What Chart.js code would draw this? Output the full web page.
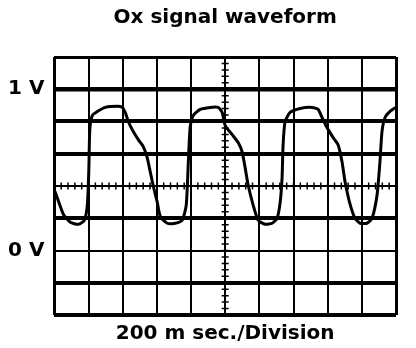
<!DOCTYPE html>
<html>
<head>
<meta charset="utf-8">
<script src="https://cdn.jsdelivr.net/npm/chart.js@4.4.1/dist/chart.umd.min.js"></script>
<style>
html,body{margin:0;padding:0;background:#fff;}
#wrap{width:416px;height:348px;position:relative;}
</style>
</head>
<body>
<div id="wrap"><canvas id="c" width="416" height="348"></canvas></div>
<script>
// Time (ms) and voltage (V)
const timeMs = [0,17.5,52.6,93.6,140.4,175.4,193,201.8,207.6,222.2,251.5,298.2,368.4,397.7,415.2,432.8,462,491.2,520.5,543.9,561.4,579,602.3,619.9,660.8,707.6,748.5,772,783.6,795.3,812.9,853.8,912.3,959,982.5,1000,1041,1076,1099,1117,1134.5,1163.8,1193,1234,1275,1304,1322,1333,1339,1351,1380,1439,1509,1544,1567,1596,1632,1661,1684,1702,1731,1760,1790,1830,1860,1889,1906,1918,1936,1965,2000];
const volts = [0.375,0.325,0.225,0.175,0.1625,0.1875,0.281,0.5,0.75,0.8375,0.8625,0.8875,0.894,0.8875,0.856,0.8,0.7375,0.6875,0.644,0.575,0.4875,0.4,0.3,0.2125,0.169,0.169,0.1875,0.281,0.531,0.769,0.8375,0.875,0.8875,0.8875,0.856,0.775,0.719,0.669,0.6125,0.5125,0.406,0.281,0.1875,0.1625,0.169,0.2,0.3,0.45,0.656,0.8,0.856,0.881,0.8875,0.875,0.825,0.7625,0.7,0.656,0.55,0.425,0.2875,0.2,0.169,0.169,0.2,0.344,0.55,0.7375,0.825,0.8625,0.8875];
const yLabels = {"1": "1 V", "0": "0 V"};
const titleText = "Ox signal waveform";
const xTitleText = "200 m sec./Division";
const timeMin = 0, timeMax = 2000, timeStep = 200;
const voltMin = -0.4, voltMax = 1.2, voltStep = 0.2;

const points = timeMs.map((t, i) => ({x: t, y: volts[i]}));
const FONT = "'DejaVu Sans', sans-serif";
const near = (a, b) => Math.abs(a - b) < 1e-6;

const centerTicks = {
  id: 'centerTicks',
  afterDraw(chart) {
    const {ctx, scales: {x, y}} = chart;
    const cx = x.getPixelForValue((timeMin + timeMax) / 2);
    const cy = y.getPixelForValue(0.4);
    ctx.save();
    ctx.strokeStyle = '#000';
    ctx.lineWidth = 1.5;
    ctx.beginPath();
    const xs = timeStep / 5;
    for (let t = timeMin + xs; t < timeMax; t += xs) {
      const px = x.getPixelForValue(t);
      ctx.moveTo(px, cy - 3.5); ctx.lineTo(px, cy + 3.5);
    }
    const ys = voltStep / 5;
    for (let v = voltMin + ys; v < voltMax - 1e-9; v += ys) {
      const py = y.getPixelForValue(v);
      ctx.moveTo(cx - 3.5, py); ctx.lineTo(cx + 3.5, py);
    }
    ctx.stroke();
    ctx.restore();
  }
};

new Chart(document.getElementById('c'), {
  type: 'line',
  data: {
    datasets: [{
      data: points,
      borderColor: '#000',
      borderWidth: 3,
      pointRadius: 0,
      tension: 0.2,
      fill: false
    }]
  },
  options: {
    responsive: false,
    animation: false,
    layout: {padding: {left: -2, right: 20, top: 4, bottom: 2}},
    plugins: {
      legend: {display: false},
      tooltip: {enabled: false},
      title: {
        display: true,
        fullSize: false,
        text: titleText,
        color: '#000',
        font: {family: FONT, size: 20, weight: 'bold'},
        padding: {top: 2, bottom: 27}
      }
    },
    scales: {
      x: {
        type: 'linear',
        min: timeMin, max: timeMax,
        ticks: {stepSize: timeStep, display: false},
        grid: {
          color: '#000',
          drawTicks: false,
          lineWidth: (c) => (c.tick && (near(c.tick.value, timeMin) || near(c.tick.value, timeMax))) ? 3 : 2
        },
        border: {display: false},
        title: {
          display: true,
          text: xTitleText,
          color: '#000',
          font: {family: FONT, size: 20, weight: 'bold'},
          padding: {top: 7, bottom: 0}
        }
      },
      y: {
        type: 'linear',
        min: voltMin, max: voltMax,
        ticks: {
          stepSize: voltStep,
          color: '#000',
          padding: 10,
          font: {family: FONT, size: 20, weight: 'bold'},
          callback: (v) => {
            for (const k in yLabels) if (near(v, Number(k))) return yLabels[k];
            return '';
          }
        },
        grid: {
          color: '#000',
          drawTicks: false,
          lineWidth: (c) => {
            if (!c.tick) return 2;
            const v = c.tick.value;
            if (near(v, 0) || near(v, 0.4)) return 2;
            if (near(v, 1)) return 4.5;
            if (near(v, voltMax)) return 3;
            return 4;
          }
        },
        border: {display: false}
      }
    }
  },
  plugins: [centerTicks]
});
</script>
</body>
</html>
